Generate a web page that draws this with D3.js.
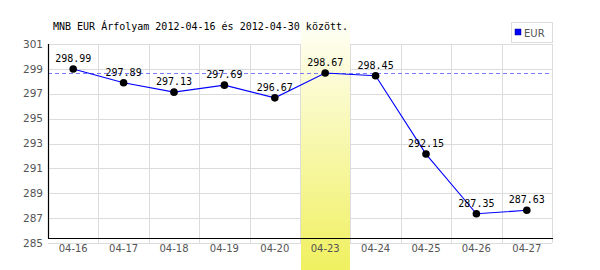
<!DOCTYPE html>
<html>
<head>
<meta charset="utf-8">
<script src="https://cdn.jsdelivr.net/npm/d3@7"></script>
<style>
  html, body { margin: 0; padding: 0; background: #fff; }
  svg { display: block; }
</style>
</head>
<body>
<svg id="chart" width="600" height="270"></svg>
<script>
// === Data ===
const days = ["04-16", "04-17", "04-18", "04-19", "04-20", "04-23", "04-24", "04-25", "04-26", "04-27"];
const eurRates = [298.99, 297.89, 297.13, 297.69, 296.67, 298.67, 298.45, 292.15, 287.35, 287.63];
const yTicks = [285, 287, 289, 291, 293, 295, 297, 299, 301];
const highlightDay = "04-23";
const referenceRate = 298.67;
const seriesName = "EUR";
const chartTitle = "MNB EUR Árfolyam 2012-04-16 és 2012-04-30 között.";

const svg = d3.select("#chart");
const margin = { top: 44, left: 48, right: 48, bottom: 27 };
const width = +svg.attr("width");
const height = +svg.attr("height");

const x = d3.scaleBand()
  .domain(days)
  .range([margin.left, width - margin.right]);

const y = d3.scaleLinear()
  .domain([285, 301])
  .range([height - margin.bottom, margin.top]);

const mono = "'DejaVu Sans Mono', 'Liberation Mono', monospace";
const sans = "'DejaVu Sans', Verdana, sans-serif";

// === gradient for highlighted day ===
const grad = svg.append("defs").append("linearGradient")
  .attr("id", "hl")
  .attr("x1", 0).attr("y1", 0).attr("x2", 0).attr("y2", 1);
grad.append("stop").attr("offset", "0%").attr("stop-color", "#fffff8");
grad.append("stop").attr("offset", "100%").attr("stop-color", "#f0f060");

// === grid ===
const grid = svg.append("g");
grid.selectAll(".hgrid")
  .data(yTicks)
  .enter()
  .append("line")
  .attr("x1", margin.left)
  .attr("x2", width - margin.right)
  .attr("y1", d => Math.round(y(d)) + 0.5)
  .attr("y2", d => Math.round(y(d)) + 0.5)
  .attr("stroke", "#dcdcdc");

grid.selectAll(".vgrid")
  .data(days)
  .enter()
  .append("line")
  .attr("x1", d => Math.round(x(d) + x.bandwidth()) + 0.5)
  .attr("x2", d => Math.round(x(d) + x.bandwidth()) + 0.5)
  .attr("y1", y(301))
  .attr("y2", y(285))
  .attr("stroke", "#dcdcdc");

// === highlighted band ===
svg.append("rect")
  .attr("x", Math.round(x(highlightDay)) + 1)
  .attr("y", 20)
  .attr("width", Math.round(x.bandwidth()) - 1)
  .attr("height", height - 20)
  .attr("fill", "url(#hl)");

// === reference dashed line ===
svg.append("line")
  .attr("x1", margin.left)
  .attr("x2", width - margin.right)
  .attr("y1", Math.round(y(referenceRate)) + 0.5)
  .attr("y2", Math.round(y(referenceRate)) + 0.5)
  .attr("stroke", "#7c7cff")
  .attr("stroke-dasharray", "4,3");

// === axes ===
const axisY = Math.round(y(285)) - 5 + 0.5;
svg.append("line")
  .attr("x1", margin.left + 0.5).attr("x2", margin.left + 0.5)
  .attr("y1", y(301)).attr("y2", axisY)
  .attr("stroke", "#000").attr("stroke-width", 1.2);
svg.append("line")
  .attr("x1", margin.left).attr("x2", width - margin.right + 1)
  .attr("y1", axisY).attr("y2", axisY)
  .attr("stroke", "#000").attr("stroke-width", 1.2);

svg.selectAll(".ytick")
  .data(yTicks)
  .enter()
  .append("text")
  .attr("x", margin.left - 5)
  .attr("y", d => y(d))
  .attr("dy", "0.35em")
  .attr("text-anchor", "end")
  .attr("font-family", sans)
  .attr("font-size", "10.5px")
  .attr("fill", "#555")
  .text(d => d);

svg.selectAll(".xtick")
  .data(days)
  .enter()
  .append("text")
  .attr("x", d => x(d) + x.bandwidth() / 2)
  .attr("y", 248)
  .attr("dy", "0.35em")
  .attr("text-anchor", "middle")
  .attr("font-family", sans)
  .attr("font-size", "10px")
  .attr("fill", "#555")
  .text(d => d);

// === line + dots ===
const pts = days.map((d, i) => ({ day: d, value: eurRates[i] }));
const line = d3.line()
  .x(d => x(d.day) + x.bandwidth() / 2)
  .y(d => y(d.value));

svg.append("path")
  .datum(pts)
  .attr("d", line)
  .attr("fill", "none")
  .attr("stroke", "#0000ff")
  .attr("stroke-width", 1.1);

svg.selectAll(".dot")
  .data(pts)
  .enter()
  .append("circle")
  .attr("cx", d => x(d.day) + x.bandwidth() / 2)
  .attr("cy", d => y(d.value))
  .attr("r", 3.8)
  .attr("fill", "#000");

svg.selectAll(".vlabel")
  .data(pts)
  .enter()
  .append("text")
  .attr("x", d => x(d.day) + x.bandwidth() / 2)
  .attr("y", d => y(d.value) - 7)
  .attr("text-anchor", "middle")
  .attr("font-family", mono)
  .attr("font-size", "10px")
  .attr("fill", "#000")
  .text(d => d.value.toFixed(2));

// === title ===
svg.append("text")
  .attr("x", 53)
  .attr("y", 30)
  .attr("font-family", mono)
  .attr("font-size", "10px")
  .attr("fill", "#000")
  .text(chartTitle);

// === legend ===
const legend = svg.append("g");
legend.append("rect")
  .attr("x", 511.5).attr("y", 22.5)
  .attr("width", 41).attr("height", 20)
  .attr("fill", "#fff")
  .attr("stroke", "#dcdcdc");
legend.append("rect")
  .attr("x", 515).attr("y", 29)
  .attr("width", 6).attr("height", 6)
  .attr("fill", "#0000ff")
  .attr("stroke", "#000080")
  .attr("stroke-width", 0.5);
legend.append("text")
  .attr("x", 524)
  .attr("y", 33)
  .attr("dy", "0.35em")
  .attr("font-family", sans)
  .attr("font-size", "10px")
  .attr("fill", "#555")
  .text(seriesName);
</script>
</body>
</html>
